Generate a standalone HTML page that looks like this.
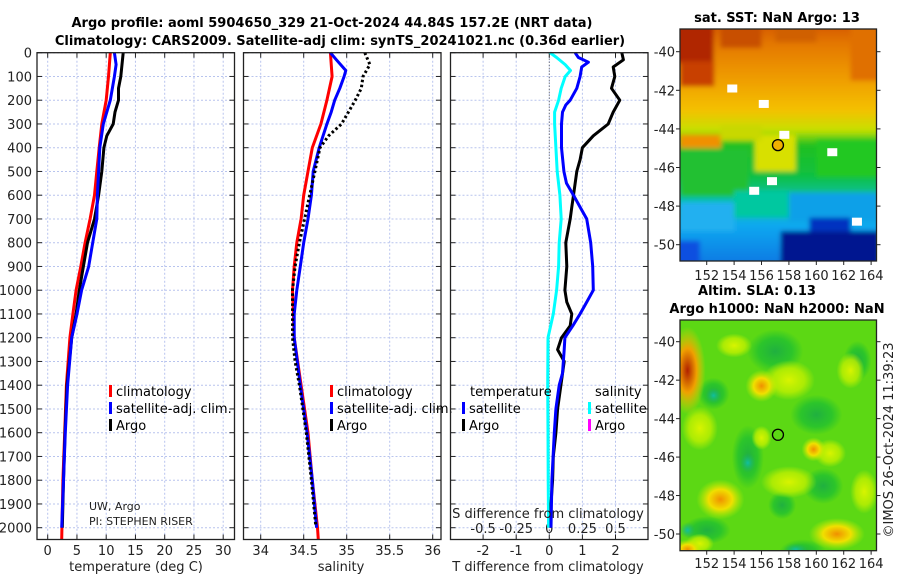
<!DOCTYPE html>
<html><head><meta charset="utf-8"><style>
html,body{margin:0;padding:0;background:#fff;}
svg{display:block;font-family:"DejaVu Sans","Liberation Sans",sans-serif;}
.tk{font-size:13px;fill:#222;}
.ttl{font-size:13px;font-weight:bold;fill:#000;}
.lg{font-size:13px;fill:#000;}
</style></head><body>
<svg id="fig" width="900" height="580" viewBox="0 0 900 580" xmlns="http://www.w3.org/2000/svg">
<defs>
<linearGradient id="sstg" x1="0" y1="0" x2="0" y2="1">
<stop offset="0" stop-color="#d05000"/><stop offset="0.1" stop-color="#e47800"/><stop offset="0.25" stop-color="#f0a000"/>
<stop offset="0.36" stop-color="#f4c000"/><stop offset="0.44" stop-color="#c8e000"/><stop offset="0.5" stop-color="#20c020"/>
<stop offset="0.62" stop-color="#10c040"/><stop offset="0.72" stop-color="#00c0b0"/><stop offset="0.82" stop-color="#10a8f0"/>
<stop offset="1" stop-color="#1070e0"/></linearGradient>
<radialGradient id="rb1"><stop offset="0" stop-color="#b02000"/><stop offset="0.5" stop-color="#f0a000"/><stop offset="1" stop-color="#f0d000" stop-opacity="0"/></radialGradient>
<radialGradient id="rb2"><stop offset="0" stop-color="#f09000"/><stop offset="0.5" stop-color="#f0e000"/><stop offset="1" stop-color="#c0f000" stop-opacity="0"/></radialGradient>
<radialGradient id="rb3"><stop offset="0" stop-color="#d8f400"/><stop offset="0.6" stop-color="#c0f000" stop-opacity="0.8"/><stop offset="1" stop-color="#c0f000" stop-opacity="0"/></radialGradient>
<radialGradient id="rb4"><stop offset="0" stop-color="#20b040"/><stop offset="0.6" stop-color="#20c030" stop-opacity="0.8"/><stop offset="1" stop-color="#20c030" stop-opacity="0"/></radialGradient>
<radialGradient id="rb5"><stop offset="0" stop-color="#10c0a0"/><stop offset="1" stop-color="#20b060" stop-opacity="0"/></radialGradient>
<filter id="bl" x="-5%" y="-5%" width="110%" height="110%"><feGaussianBlur stdDeviation="2.5"/></filter>
<clipPath id="c1"><rect x="680" y="29" width="196.5" height="232"/></clipPath>
<clipPath id="c2"><rect x="680" y="320" width="196.5" height="230.7"/></clipPath>
</defs>
<text class="ttl" x="332" y="27" text-anchor="middle">Argo profile: aoml 5904650_329 21-Oct-2024 44.84S 157.2E (NRT data)</text>
<text class="ttl" x="340" y="45" text-anchor="middle">Climatology: CARS2009. Satellite-adj clim: synTS_20241021.nc (0.36d earlier)</text>
<g id="p1"></g>
<g id="p2"></g>
<g id="p3"></g>
<g id="m1"><g id="m1f" clip-path="url(#c1)"><g id="m1b" filter="url(#bl)"></g></g></g>
<g id="m2"><g id="m2f" clip-path="url(#c2)"></g></g>
<text class="tk" x="89" y="510" style="font-size:11px">UW, Argo</text>
<text class="tk" x="89" y="525" style="font-size:11px">PI: STEPHEN RISER</text>
<text class="tk" x="136" y="571" text-anchor="middle">temperature (deg C)</text>
<text class="tk" x="341" y="571" text-anchor="middle">salinity</text>
<text class="tk" x="548" y="571" text-anchor="middle">T difference from climatology</text>
<text class="tk" x="548" y="518" text-anchor="middle">S difference from climatology</text>
<text class="ttl" x="777" y="22" text-anchor="middle">sat. SST: NaN Argo: 13</text>
<text class="ttl" x="757" y="295" text-anchor="middle">Altim. SLA: 0.13</text>
<text class="ttl" x="777" y="313" text-anchor="middle">Argo h1000: NaN h2000: NaN</text>
<text class="tk" transform="translate(893,440) rotate(-90)" text-anchor="middle">©IMOS 26-Oct-2024 11:39:23</text>
</svg>
<script>
// ---------- data ----------
const depthTicks=[0,100,200,300,400,500,600,700,800,900,1000,1100,1200,1300,1400,1500,1600,1700,1800,1900,2000];
const tempTicks=[0,5,10,15,20,25,30];
const salTicks=[34,34.5,35,35.5,36];
const salTickLabels=["34","34.5","35","35.5","36"];
const tdiffTicks=[-2,-1,0,1,2];
const sdiffTicks=[-0.5,-0.25,0,0.25,0.5];
const sdiffTickLabels=["-0.5","-0.25","0","0.25","0.5"];

const tClimDepth=[0,100,200,300,400,500,600,700,800,900,1000,1100,1200,1400,1600,1800,2050];
const tClimVal=[10.7,10.4,10.0,9.25,8.8,8.4,8.0,7.25,6.4,5.65,4.85,4.3,3.8,3.2,2.9,2.6,2.4];
const tSatDepth=[0,50,100,200,300,400,500,600,700,800,900,1000,1100,1200,1400,1600,1800,2000];
const tSatVal=[11.4,11.7,11.4,10.7,9.5,8.9,8.7,8.5,8.4,7.7,7.0,5.8,5.0,4.1,3.4,3.0,2.7,2.4];
const tArgoDepth=[0,100,150,200,250,300,350,400,500,600,700,800,900,1000,1100,1200,1400,1600,1800,2000];
const tArgoVal=[12.9,12.5,12.1,12.1,11.5,11.2,10.1,9.6,9.25,8.7,8.0,6.8,6.1,5.4,4.85,4.1,3.3,2.95,2.7,2.5];

const sClimDepth=[0,100,200,300,400,500,600,700,800,900,1000,1100,1200,1400,1600,1800,2000,2050];
const sClimVal=[34.81,34.83,34.77,34.70,34.60,34.55,34.50,34.47,34.42,34.39,34.37,34.38,34.39,34.47,34.55,34.60,34.66,34.67];
const sSatDepth=[0,30,75,100,150,200,250,300,400,500,600,700,800,900,1000,1100,1200,1400,1600,1800,2000];
const sSatVal=[34.81,34.88,34.99,34.97,34.92,34.86,34.82,34.77,34.68,34.61,34.59,34.55,34.50,34.46,34.42,34.39,34.39,34.46,34.54,34.60,34.65];
const sArgoDepth=[0,50,100,150,200,250,300,350,400,500,600,700,800,900,1000,1100,1200,1300,1400,1600,1800,1990];
const sArgoVal=[35.21,35.27,35.19,35.17,35.10,35.02,34.94,34.79,34.69,34.63,34.57,34.51,34.45,34.40,34.37,34.37,34.37,34.40,34.45,34.53,34.59,34.64];

const dSDepth=[0,20,50,75,100,150,200,250,300,400,500,600,700,800,900,1000,1100,1200,1400,1600,1800,2000];
const dSSatVal=[0.005,0.055,0.12,0.16,0.12,0.09,0.07,0.04,0.04,0.05,0.06,0.08,0.09,0.075,0.07,0.055,0.03,-0.01,-0.012,-0.01,-0.008,-0.005];
const dTSatDepth=[0,20,40,60,100,150,200,220,250,300,400,500,550,600,650,700,800,900,1000,1050,1100,1150,1200,1250,1350,1400,1500,1600,1800,2000];
const dTSatVal=[0.78,0.88,1.18,0.98,0.93,0.83,0.63,0.5,0.4,0.37,0.37,0.44,0.52,0.73,0.93,1.13,1.25,1.31,1.33,1.13,0.93,0.71,0.47,0.45,0.4,0.3,0.2,0.15,0.08,0.05];
const dTArgoDepth=[0,30,60,100,150,200,250,300,350,400,450,500,600,650,700,800,900,1000,1050,1100,1150,1200,1250,1300,1400,1500,1600,1700,1800,1900,2000];
const dTArgoVal=[2.19,2.24,1.93,1.98,1.88,2.13,1.93,1.78,1.33,1.0,0.93,0.83,0.73,0.68,0.63,0.5,0.53,0.47,0.53,0.68,0.63,0.37,0.25,0.45,0.35,0.25,0.2,0.12,0.1,0.05,0.05];

const mapLonTicks=[152,154,156,158,160,162,164];
const mapLatTicks=[-40,-42,-44,-46,-48,-50];
const argoLon=157.2, argoLat=-44.84;

// ---------- helpers ----------
const NS="http://www.w3.org/2000/svg";
function mk(tag,parent,attrs){const e=document.createElementNS(NS,tag);for(const k in attrs)e.setAttribute(k,attrs[k]);parent.appendChild(e);return e;}
const yD=d=>52.7+d*0.2375;
const TOP=52.7, BOT=539.5;
const xT=v=>47.7+v*5.85;
const xS=v=>260.7+(v-34)*86;
const xD=v=>549.3+v*33.1;
const xSd=v=>549.3+v*132.4;

function panel(g,x0,x1,xs,ticks,labels,showDepth,gname){
  for(const d of depthTicks){
    const l=mk('line',g,{x1:x0,x2:x1,y1:yD(d),y2:yD(d),stroke:'#b8c4ee','stroke-width':1,'stroke-dasharray':'2,2'});
    
    mk('line',g,{x1:x0,x2:x0+5,y1:yD(d),y2:yD(d),stroke:'#222'});
    mk('line',g,{x1:x1-5,x2:x1,y1:yD(d),y2:yD(d),stroke:'#222'});
    if(showDepth){const t=mk('text',g,{x:x0-5,y:yD(d)+5,'text-anchor':'end',class:'tk'});t.textContent=d;
      }
  }
  ticks.forEach((v,i)=>{
    const l=mk('line',g,{x1:xs(v),x2:xs(v),y1:TOP,y2:BOT,stroke:'#b8c4ee','stroke-width':1,'stroke-dasharray':'2,2'});
    
    mk('line',g,{x1:xs(v),x2:xs(v),y1:BOT-5,y2:BOT,stroke:'#222'});
    mk('line',g,{x1:xs(v),x2:xs(v),y1:TOP,y2:TOP+5,stroke:'#222'});
    const t=mk('text',g,{x:xs(v),y:555,'text-anchor':'middle',class:'tk'});t.textContent=labels[i];
    
  });
}
function frame(g,x0,x1){const r=mk('rect',g,{x:x0,y:TOP,width:x1-x0,height:BOT-TOP,fill:'none',stroke:'#222','stroke-width':1.3});
  }
function line(g,ds,vs,xs,color,name,dash){
  const d=ds.map((dp,i)=>(i?'L':'M')+xs(vs[i]).toFixed(1)+','+yD(dp).toFixed(1)).join('');
  const p=mk('path',g,{d:d,fill:'none',stroke:color,'stroke-width':3,'stroke-linejoin':'round'});
  if(dash)p.setAttribute('stroke-dasharray',dash);
  
}
function legend(g,x,y,color,label){
  const r=mk('rect',g,{x:x,y:y-11,width:3,height:12,fill:color});
  
  const t=mk('text',g,{x:x+7,y:y,class:'lg'});t.textContent=label;
  
}

// ---------- panel 1 ----------
const p1=document.getElementById('p1');
panel(p1,37,234.5,xT,tempTicks,tempTicks.map(String),true,'temperature');
line(p1,tClimDepth,tClimVal,xT,'#ff0000','temp-climatology-line');
line(p1,tArgoDepth,tArgoVal,xT,'#000000','temp-argo-line');
line(p1,tSatDepth,tSatVal,xT,'#0000ff','temp-satellite-line');
frame(p1,37,234.5);
legend(p1,109,396,'#ff0000','climatology');
legend(p1,109,413,'#0000ff','satellite-adj. clim.');
legend(p1,109,430,'#000000','Argo');

// ---------- panel 2 ----------
const p2=document.getElementById('p2');
panel(p2,243.5,441,xS,salTicks,salTickLabels,false,'salinity');
line(p2,sClimDepth,sClimVal,xS,'#ff0000','sal-climatology-line');
line(p2,sSatDepth,sSatVal,xS,'#0000ff','sal-satellite-line');
line(p2,sArgoDepth,sArgoVal,xS,'#000000','sal-argo-line','2.5,2.5');
frame(p2,243.5,441);
legend(p2,330,396,'#ff0000','climatology');
legend(p2,330,413,'#0000ff','satellite-adj. clim.');
legend(p2,330,430,'#000000','Argo');

// ---------- panel 3 ----------
const p3=document.getElementById('p3');
panel(p3,450.5,648,xD,tdiffTicks,tdiffTicks.map(String),false,'t-diff');
const z=mk('line',p3,{x1:xD(0),x2:xD(0),y1:TOP,y2:BOT,stroke:'#555','stroke-width':1,'stroke-dasharray':'1,2'});

sdiffTicks.forEach((v,i)=>{const t=mk('text',p3,{x:xSd(v),y:533,'text-anchor':'middle',class:'tk'});t.textContent=sdiffTickLabels[i];
  });
line(p3,dSDepth,dSSatVal,xSd,'#00ffff','s-diff-satellite-line');
line(p3,dTArgoDepth,dTArgoVal,xD,'#000000','t-diff-argo-line');
line(p3,dTSatDepth,dTSatVal,xD,'#0000ff','t-diff-satellite-line');
frame(p3,450.5,648);
{const t=mk('text',p3,{x:470,y:396,class:'lg'});t.textContent='temperature';
 const s=mk('text',p3,{x:595,y:396,class:'lg'});s.textContent='salinity';}
legend(p3,462,413,'#0000ff','satellite');
legend(p3,462,430,'#000000','Argo');
legend(p3,588,413,'#00ffff','satellite');
legend(p3,588,430,'#ff00ff','Argo');

// ---------- maps ----------
const MX0=680, MX1=876.5;
const lonX=l=>680+(l-150.05)*13.7;
function mapAxes(g,latY,y0,y1,labY){
  const r=mk('rect',g,{x:MX0,y:y0,width:MX1-MX0,height:y1-y0,fill:'none',stroke:'#222','stroke-width':1.3});
  
  mapLatTicks.forEach(la=>{const y=latY(la);
    mk('line',g,{x1:MX0-4,x2:MX0,y1:y,y2:y,stroke:'#222'});mk('line',g,{x1:MX1,x2:MX1+4,y1:y,y2:y,stroke:'#222'});
    const t=mk('text',g,{x:MX0-5,y:y+5,'text-anchor':'end',class:'tk'});t.textContent=la;
    });
  mapLonTicks.forEach(lo=>{const x=lonX(lo);
    mk('line',g,{x1:x,x2:x,y1:y1,y2:y1+4,stroke:'#222'});
    const t=mk('text',g,{x:x,y:labY,'text-anchor':'middle',class:'tk'});t.textContent=lo;
    });
}
// SST map
const m1=document.getElementById('m1');
const m1b=document.getElementById('m1b');
const m1f=document.getElementById('m1f');
const latY1=la=>51.7+(-40-la)*19.3;
const mY0=29, mY1=261;
{const b=mk('rect',m1b,{x:MX0-10,y:mY0-10,width:MX1-MX0+20,height:mY1-mY0+20,fill:'url(#sstg)'});}
const patches=[[149.5,-38.5,3,-40.6,'#b02800'],[150.05,-40.5,2.5,-41.8,'#c84000'],[153,-38.5,3,-39.8,'#c85000'],[157,-38.5,3,-39.5,'#d06000'],
 [162.5,-38.5,2.5,-41.5,'#e07000'],[150.05,-44.3,3,-45,'#f09000'],
 [155.5,-44.3,3,-46.2,'#d8e000'],[150.05,-45,5,-47.5,'#20c030'],[150.05,-47.8,4,-49.3,'#20b0f0'],[154,-47.2,4,-48.6,'#00c8a0'],
 [158,-47.3,6.5,-48.8,'#10a0e8'],[157.4,-49.3,7.2,-51.5,'#001890'],[159.5,-48.6,3,-49.3,'#0030c0'],[149.5,-49.8,2,-51.5,'#1050e0'],
 [160,-44.5,4.6,-46.5,'#20c820'],[153,-43.8,3,-44.6,'#c8d800']];
patches.forEach(p=>{const r=mk('rect',m1b,{x:lonX(p[0]),y:latY1(p[1]),width:p[2]*13.7,height:latY1(p[3])-latY1(p[1]),fill:p[4]});
  });
const gaps=[[153.5,-41.7],[155.8,-42.5],[157.3,-44.1],[156.4,-46.5],[160.8,-45],[162.6,-48.6],[155.1,-47]];
gaps.forEach(p=>{const r=mk('rect',m1f,{x:lonX(p[0]),y:latY1(p[1]),width:10,height:8,fill:'#fff'});
  });
{const c=mk('circle',m1,{cx:lonX(argoLon),cy:latY1(argoLat),r:5.5,fill:'#f0b000',stroke:'#000','stroke-width':1.3});}
mapAxes(m1,latY1,mY0,mY1,280);
// SLA map
const m2=document.getElementById('m2');
const m2f=document.getElementById('m2f');
const latY2=la=>341.7+(-40-la)*19.23;
const nY0=320, nY1=550.7;
{const b=mk('rect',m2f,{x:MX0,y:nY0,width:MX1-MX0,height:nY1-nY0,fill:'#5cd814'});}
const blobs=[
 [157,-40.5,28,22,'rb4'],[160,-43.8,26,20,'rb4'],[155,-46,16,32,'rb4'],[152.5,-42.7,16,16,'rb4'],[159,-51,24,14,'rb4'],[152,-49.8,24,14,'rb4'],
 [163,-41,14,20,'rb4'],[160.5,-47.5,20,18,'rb4'],[157.5,-48.5,14,14,'rb4'],
 [152.5,-42.8,8,8,'rb5'],[155,-46.3,8,10,'rb5'],[158.5,-50.8,12,6,'rb5'],[150.6,-49.8,8,8,'rb5'],
 [158,-42,26,20,'rb3'],[162.5,-41.5,14,18,'rb3'],[151.5,-44.5,18,22,'rb3'],[158,-47.3,28,16,'rb3'],[163.5,-47.8,14,22,'rb3'],
 [154,-40.2,18,12,'rb3'],[161,-45.8,16,14,'rb3'],[156,-45,10,12,'rb3'],[151.5,-50.5,14,10,'rb3'],
 [150.6,-41.5,18,44,'rb1'],[153,-48.2,24,20,'rb2'],[161.5,-50,28,16,'rb2'],[156,-42.3,16,16,'rb2'],[159.8,-45.6,12,12,'rb2'],[150.6,-50.8,14,10,'rb2']];
blobs.forEach(b=>{const e=mk('ellipse',m2f,{cx:lonX(b[0]),cy:latY2(b[1]),rx:b[2],ry:b[3],fill:'url(#'+b[4]+')'});
  });
{const c=mk('circle',m2,{cx:lonX(argoLon),cy:latY2(argoLat),r:5.5,fill:'none',stroke:'#000','stroke-width':1.3});}
mapAxes(m2,latY2,nY0,nY1,568);
</script>
</body></html>
